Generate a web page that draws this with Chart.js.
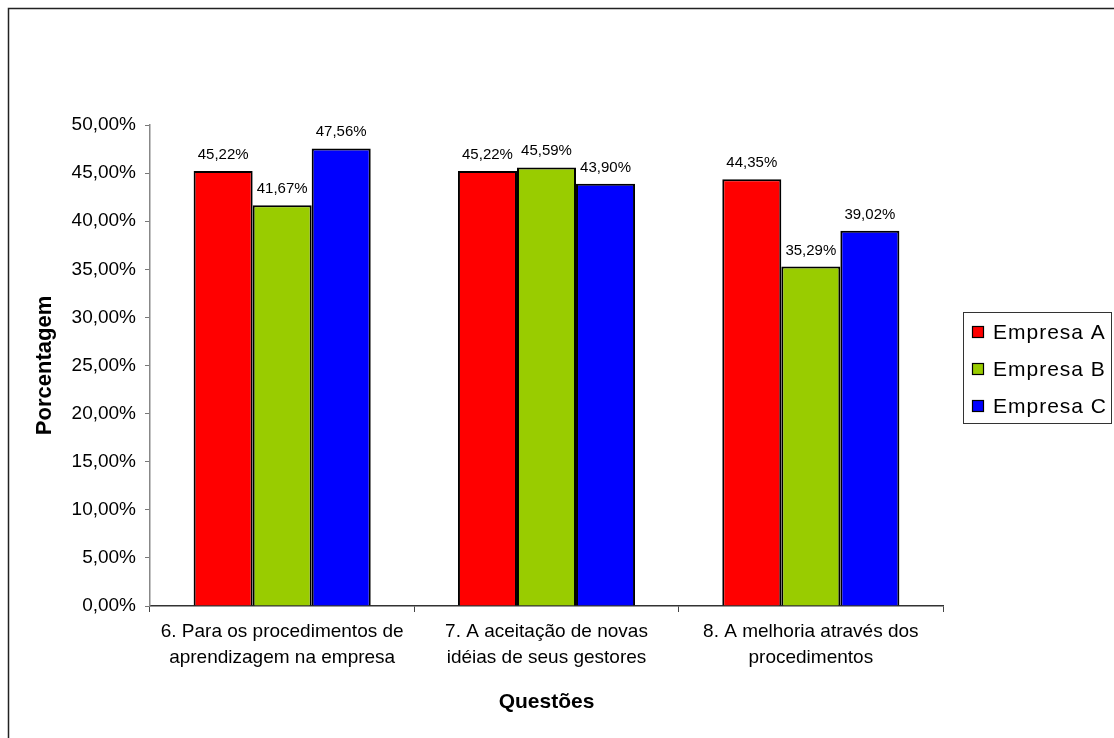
<!DOCTYPE html>
<html>
<head>
<meta charset="utf-8">
<script src="https://cdn.jsdelivr.net/npm/chart.js@4.4.1/dist/chart.umd.min.js"></script>
<style>
html,body{margin:0;padding:0;background:#fff;}
#wrap{width:1114px;height:738px;position:relative;}
</style>
</head>
<body>
<div id="wrap"><canvas id="c" width="1114" height="738"></canvas></div>
<script>
const categories = [
  ["6. Para os procedimentos de", "aprendizagem na empresa"],
  ["7. A aceitação de novas", "idéias de seus gestores"],
  ["8. A melhoria através dos", "procedimentos"]
];
const seriesNames = ["Empresa A", "Empresa B", "Empresa C"];
const empresaA = [45.22, 45.22, 44.35];
const empresaB = [41.67, 45.59, 35.29];
const empresaC = [47.56, 43.90, 39.02];
const seriesColors = ["#FF0000", "#99CC00", "#0000FF"];
const yTitle = "Porcentagem";
const xTitle = "Questões";

const FONT = "'Liberation Sans', Arial, sans-serif";
const fmt = v => v.toFixed(2).replace('.', ',') + '%';

const frame = {
  id: 'frame',
  beforeDraw(chart) {
    const ctx = chart.ctx;
    ctx.save();
    ctx.fillStyle = '#fff';
    ctx.fillRect(0, 0, chart.width, chart.height);
    ctx.strokeStyle = '#222';
    ctx.lineWidth = 1.5;
    ctx.beginPath();
    ctx.moveTo(8.5, chart.height);
    ctx.lineTo(8.5, 8.5);
    ctx.lineTo(chart.width, 8.5);
    ctx.stroke();
    ctx.restore();
  }
};

const labelsPlugin = {
  id: 'valueLabels',
  afterDatasetsDraw(chart) {
    const ctx = chart.ctx;
    ctx.save();
    ctx.font = '15px ' + FONT;
    ctx.fillStyle = '#000';
    ctx.textAlign = 'center';
    ctx.textBaseline = 'alphabetic';
    chart.data.datasets.forEach((ds, i) => {
      const meta = chart.getDatasetMeta(i);
      meta.data.forEach((bar, j) => {
        ctx.fillText(fmt(ds.data[j]), bar.x, bar.y - 12);
      });
    });
    ctx.restore();
  }
};

const legendPlugin = {
  id: 'boxLegend',
  afterDraw(chart) {
    const ctx = chart.ctx;
    ctx.save();
    const bx = 963.5, by = 312.5, bw = 148, bh = 111;
    ctx.strokeStyle = '#333';
    ctx.lineWidth = 1;
    ctx.strokeRect(bx, by, bw, bh);
    ctx.font = '21px ' + FONT;
    try { ctx.letterSpacing = '1px'; } catch (e) {}
    ctx.textBaseline = 'middle';
    ctx.textAlign = 'left';
    const ys = [332, 369, 406];
    chart.data.datasets.forEach((ds, i) => {
      const y = ys[i];
      ctx.fillStyle = ds.backgroundColor;
      ctx.fillRect(972, y - 6, 12, 12);
      ctx.strokeStyle = '#000';
      ctx.lineWidth = 1.2;
      ctx.strokeRect(972.5, y - 5.5, 11, 11);
      ctx.fillStyle = '#000';
      ctx.fillText(ds.label, 993, y + 1);
    });
    ctx.restore();
  }
};

new Chart(document.getElementById('c'), {
  type: 'bar',
  data: {
    labels: categories,
    datasets: [
      { label: seriesNames[0], data: empresaA, backgroundColor: seriesColors[0] },
      { label: seriesNames[1], data: empresaB, backgroundColor: seriesColors[1] },
      { label: seriesNames[2], data: empresaC, backgroundColor: seriesColors[2] }
    ].map(d => Object.assign(d, { borderColor: '#000', borderWidth: 2, categoryPercentage: 0.67, barPercentage: 1.0 }))
  },
  options: {
    responsive: false,
    animation: false,
    devicePixelRatio: 1,
    layout: { padding: { left: 8, top: 125, right: 171, bottom: 0 } },
    plugins: { legend: { display: false }, tooltip: { enabled: false } },
    scales: {
      x: {
        grid: { display: true, drawOnChartArea: false, drawTicks: true, tickLength: 6, offset: true, color: '#444' },
        border: { display: true, color: '#333', width: 1.5 },
        ticks: { color: '#000', font: { family: FONT, size: 19, lineHeight: 1.4 }, padding: 6, maxRotation: 0, autoSkip: false },
        title: { display: true, text: xTitle, color: '#000', font: { family: FONT, size: 21, weight: 'bold' }, padding: { top: 0, bottom: 23 } },
        afterFit(scale) { scale.height = 132; }
      },
      y: {
        min: 0, max: 50,
        grid: { display: true, drawOnChartArea: false, drawTicks: true, tickLength: 5, color: '#777' },
        border: { display: true, color: '#888', width: 1.5 },
        ticks: { stepSize: 5, color: '#000', font: { family: FONT, size: 19 }, padding: 9, callback: v => fmt(v) },
        title: { display: true, text: yTitle, color: '#000', font: { family: FONT, size: 22, weight: 'bold' }, padding: { top: 24, bottom: 0 } },
        afterFit(scale) { scale.width = 142; }
      }
    }
  },
  plugins: [frame, labelsPlugin, legendPlugin]
});
</script>
</body>
</html>
